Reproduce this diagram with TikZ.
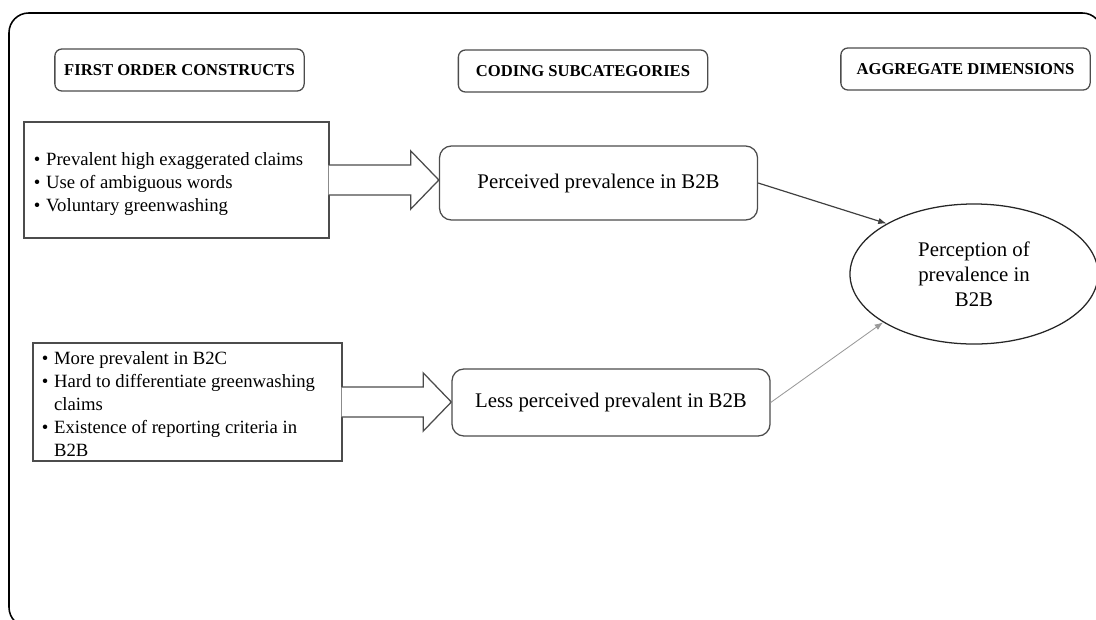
\documentclass[tikz,border=0pt]{standalone}
\usepackage{fontspec}
\setmainfont{Liberation Serif}
\usepackage{tikz}
\usetikzlibrary{arrows.meta, shapes, shapes.geometric, positioning, calc}
\tikzset{
	header/.style={draw=black!70, line width=0.9pt, rounded corners=5pt, minimum width=6.23cm, minimum height=1.05cm, inner sep=0pt, font=\fontsize{11.8}{14}\selectfont\bfseries},
	bulletbox/.style={draw=black!70, line width=0.9pt, fill=white, inner ysep=0pt, font=\fontsize{13.3}{16.4}\selectfont},
	subcat/.style={draw=black!70, line width=0.9pt, rounded corners=8.5pt, minimum width=7.95cm, inner sep=0pt, font=\fontsize{14.8}{17.8}\selectfont},
	dimension/.style={ellipse, draw=black!85, line width=0.9pt, minimum width=6.2cm, minimum height=3.5cm, inner sep=0pt, align=center, font=\fontsize{14.8}{17.8}\selectfont},
	blockarrow/.style={draw=black!70, fill=white, line width=0.9pt, line join=miter},
	line/.style={draw, -{Latex[length=6pt, width=4.5pt]}}
}
% bullet list, left aligned in a box of given width and moved down a little
\newcommand{\bulletlist}[2]{\makebox[#1][l]{\raisebox{-3pt}[\height][\depth]{%
	\begin{tabular}{@{}l@{\hspace{4pt}}l@{}}#2\end{tabular}}}}

\begin{document}
\begin{tikzpicture}[x=0.025cm, y=-0.025cm]
		\useasboundingbox (0,0) rectangle (1096,619);
		
		% Outer frame (runs past the right and bottom edge)
		\draw[black, line width=1.1pt, rounded corners=14pt] (9,13) rectangle (1102,627);
		
		% Column headers
		\node[header] (head1) at (179.5,70) {FIRST ORDER CONSTRUCTS};
		\node[header] (head2) at (583,71) {CODING SUBCATEGORIES};
		\node[header] (head3) at (965.5,69) {AGGREGATE DIMENSIONS};
		
		% First order constructs
		\node[bulletbox, minimum height=2.9cm, inner xsep=0.25cm] (first1) at (176.5,180) {%
			\bulletlist{7.125cm}{%
				\textbullet & Prevalent high exaggerated claims\\
				\textbullet & Use of ambiguous words\\
				\textbullet & Voluntary greenwashing}};
		\node[bulletbox, minimum height=2.95cm, inner xsep=0.225cm] (first2) at (187.5,402) {%
			\bulletlist{7.275cm}{%
				\textbullet & More prevalent in B2C\\
				\textbullet & Hard to differentiate greenwashing\\
				& claims\\
				\textbullet & Existence of reporting criteria in\\
				& B2B}};
		
		% Coding subcategories
		\node[subcat, minimum height=1.85cm] (sub1) at (598.5,183) {Perceived prevalence in B2B};
		\node[subcat, minimum height=1.675cm] (sub2) at (611,402.5) {Less perceived prevalent in B2B};
		
		% Aggregate dimension
		\node[dimension] (dim) at (974,274) {Perception of\\prevalence in\\B2B};
		
		% Block arrows from the constructs to the subcategories
		\foreach \src/\dst in {first1/sub1, first2/sub2} {
			\coordinate (tip) at (\dst.west |- \src.east);
			\draw[blockarrow] ($(\src.east)+(-1,-15)$) -- ($(tip)+(-28,-15)$) -- ($(tip)+(-28,-29)$)
				-- (tip) -- ($(tip)+(-28,29)$) -- ($(tip)+(-28,15)$) -- ($(\src.east)+(-1,15)$);
		}
		
		% Subcategories to the aggregate dimension
		\draw[line, black!75, line width=0.85pt] (sub1.east) -- (dim.150);
		\draw[line, black!40, line width=0.6pt] (sub2.east) -- (dim.208);
		
	\end{tikzpicture}
\end{document}
